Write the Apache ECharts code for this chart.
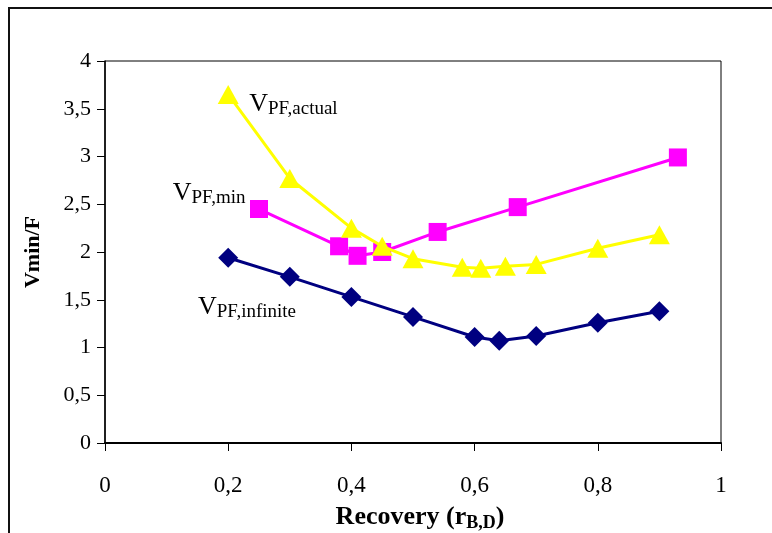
<!DOCTYPE html>
<html>
<head>
<meta charset="utf-8">
<script src="https://cdn.jsdelivr.net/npm/echarts@6/dist/echarts.min.js"></script>
<style>
  html, body { margin: 0; padding: 0; background: #fff; }
  #chart { width: 772px; height: 533px; }
</style>
</head>
<body>
<div id="chart"></div>
<script>
// Recovery values (x) and Vmin/F (y) for each curve
const recoveryActual = [0.2, 0.3, 0.4, 0.45, 0.5, 0.58, 0.61, 0.65, 0.7, 0.8, 0.9];
const vActual        = [3.65, 2.77, 2.25, 2.06, 1.93, 1.84, 1.83, 1.85, 1.87, 2.04, 2.18];

const recoveryMin = [0.25, 0.38, 0.41, 0.45, 0.54, 0.67, 0.93];
const vMin        = [2.45, 2.06, 1.96, 2.00, 2.21, 2.47, 2.99];

const recoveryInfinite = [0.2, 0.3, 0.4, 0.5, 0.6, 0.64, 0.7, 0.8, 0.9];
const vInfinite        = [1.94, 1.74, 1.53, 1.32, 1.11, 1.07, 1.12, 1.26, 1.38];

// Curve annotations: subscript text and the anchor (data space) of each label
const curveNames   = ['PF,actual', 'PF,min', 'PF,infinite'];
const curveAnchors = [[0.234, 3.55], [0.110, 2.62], [0.151, 1.425]];

const SERIF = '"Liberation Serif", "Times New Roman", serif';

const pairs = (xs, ys) => xs.map((x, i) => [x, ys[i]]);
const commaFmt = v => Number(v.toFixed(2)).toString().replace('.', ',');

const chart = echarts.init(document.getElementById('chart'), null, { renderer: 'canvas' });

const axisCommon = {
  type: 'value',
  axisLine: { show: true, lineStyle: { color: '#000', width: 1.5 } },
  axisTick: { show: true, inside: false, length: 8, lineStyle: { color: '#000', width: 1 } },
  splitLine: { show: false },
};

chart.setOption({
  animation: false,
  backgroundColor: '#fff',
  grid: {
    left: 105, right: 51, top: 61, bottom: 90,
    containLabel: false,
    outerBoundsMode: 'none',
    show: true, borderColor: '#000', borderWidth: 1, backgroundColor: 'transparent'
  },
  xAxis: Object.assign({}, axisCommon, {
    min: 0, max: 1, interval: 0.2,
    axisLine: { show: true, lineStyle: { color: '#000', width: 2 } },
    axisLabel: { margin: 31, color: '#000', fontFamily: SERIF, fontSize: 23, formatter: commaFmt },
    name: 'Recovery (r{s|B,D})',
    nameLocation: 'middle',
    nameGap: 46,
    nameTextStyle: {
      color: '#000', fontFamily: SERIF, fontWeight: 'bold', fontSize: 26, lineHeight: 30,
      padding: [0, 0, 0, 14],
      rich: {
        s: { color: '#000', fontFamily: SERIF, fontWeight: 'bold', fontSize: 18, lineHeight: 20, verticalAlign: 'bottom' }
      }
    }
  }),
  yAxis: Object.assign({}, axisCommon, {
    min: 0, max: 4, interval: 0.5,
    axisLabel: { margin: 14, color: '#000', fontFamily: SERIF, fontSize: 22, formatter: commaFmt },
    name: 'Vmin/F',
    nameLocation: 'middle',
    nameGap: 61,
    nameTextStyle: { color: '#000', fontFamily: SERIF, fontWeight: 'bold', fontSize: 22, lineHeight: 22 }
  }),
  series: [
    {
      name: 'V PF,infinite',
      type: 'line',
      data: pairs(recoveryInfinite, vInfinite),
      symbol: 'diamond', symbolSize: 20,
      lineStyle: { color: '#000080', width: 3 },
      itemStyle: { color: '#000080' },
      z: 2
    },
    {
      name: 'V PF,min',
      type: 'line',
      data: pairs(recoveryMin, vMin),
      symbol: 'rect', symbolSize: 18,
      lineStyle: { color: '#FF00FF', width: 3 },
      itemStyle: { color: '#FF00FF' },
      z: 3
    },
    {
      name: 'V PF,actual',
      type: 'line',
      data: pairs(recoveryActual, vActual),
      symbol: 'triangle', symbolSize: [21, 19],
      lineStyle: { color: '#FFFF00', width: 3 },
      itemStyle: { color: '#FFFF00' },
      z: 4
    }
  ]
});

// Outer frame and curve annotations (V with subscript)
function drawOverlay() {
  const labels = curveNames.map((sub, i) => {
    const p = chart.convertToPixel({ gridIndex: 0 }, curveAnchors[i]);
    return {
      type: 'text',
      x: p[0], y: p[1],
      z: 10,
      style: {
        text: '{v|V}{s|' + sub + '}',
        align: 'left',
        verticalAlign: 'middle',
        rich: {
          v: { fontFamily: SERIF, fontSize: 26, lineHeight: 30, fill: '#000' },
          s: { fontFamily: SERIF, fontSize: 19, lineHeight: 18, verticalAlign: 'bottom', fill: '#000' }
        }
      }
    };
  });
  chart.setOption({
    graphic: [
      {
        type: 'rect',
        shape: { x: 9, y: 8, width: 900, height: 700 },
        style: { fill: 'none', stroke: '#111', lineWidth: 2 },
        silent: true
      }
    ].concat(labels)
  });
}
drawOverlay();
</script>
</body>
</html>
